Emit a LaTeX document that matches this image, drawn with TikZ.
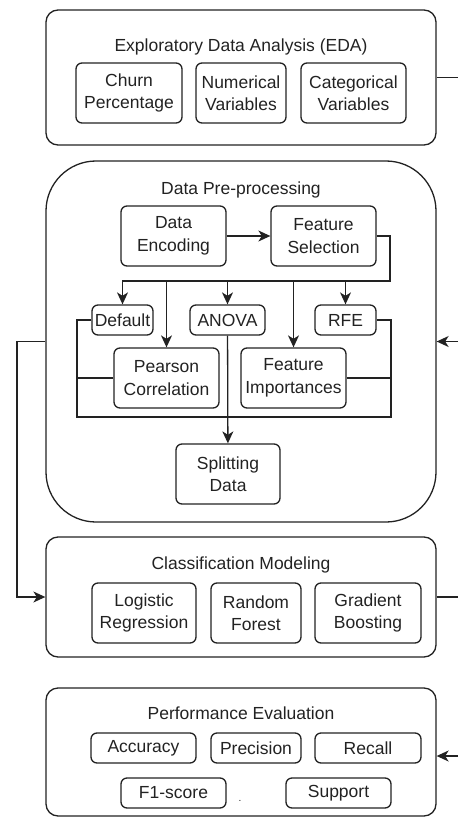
\documentclass[tikz,border=0pt]{standalone}
\usepackage{fontspec}
\setmainfont{Liberation Sans}
\usetikzlibrary{arrows.meta}
\definecolor{ink}{HTML}{222222}
\begin{document}
\begin{tikzpicture}[x=1pt,y=-1pt,
  every node/.style={font=\fontsize{17.5}{22.5}\selectfont, inner sep=0pt, align=center, text=ink},
  outer/.style={draw=ink, line width=1.3pt, rounded corners=12pt},
  ibox/.style={draw=ink, line width=1.3pt, rounded corners=6pt, minimum height=60pt},
  sbox/.style={draw=ink, line width=1.3pt, rounded corners=6pt, minimum height=30pt},
  title/.style={},
  conn/.style={draw=ink, line width=1.3pt},
  arr/.style={draw=ink, line width=1.3pt, -{Stealth[length=12pt,width=11pt,inset=3.5pt]}}]
\useasboundingbox (0,0) rectangle (458,818);
% outer boxes
\node[outer, minimum width=390pt, minimum height=135pt] (eda) at (241,77.5) {};
\node[outer, rounded corners=50pt, minimum width=390pt, minimum height=361pt] (pre) at (241,341.5) {};
\node[outer, minimum width=390pt, minimum height=120pt] (cls) at (241,597) {};
\node[outer, minimum width=390pt, minimum height=128pt] (perf) at (241,752) {};
% titles
\node[title] (tEda) at (241,47) {Exploratory Data Analysis (EDA)};
\node[title] (tPre) at (241,190) {Data Pre-processing};
\node[title] (tCls) at (241,565) {Classification Modeling};
\node[title] (tPerf) at (241,713) {Performance Evaluation};
% EDA
\node[ibox, minimum width=106pt] (churn) at (129,93) {Churn\\Percentage};
\node[ibox, minimum width=90pt] (num) at (241,93) {Numerical\\Variables};
\node[ibox, minimum width=105pt] (cat) at (353.5,93) {Categorical\\Variables};
% Pre-processing
\node[ibox, minimum width=105pt] (de) at (173.5,236) {Data\\Encoding};
\node[ibox, minimum width=105pt] (fs) at (323.5,236) {Feature\\Selection};
\node[sbox, minimum width=61pt] (default) at (122.5,320) {Default};
\node[sbox, minimum width=75pt] (anova) at (227.5,320) {ANOVA};
\node[sbox, minimum width=61pt] (rfe) at (345.5,320) {RFE};
\node[ibox, minimum width=105pt] (pearson) at (166.5,378) {Pearson\\Correlation};
\node[ibox, minimum width=105pt] (fi) at (293.5,378) {Feature\\Importances};
\node[ibox, minimum width=104pt] (split) at (228,474) {Splitting\\Data};
% Classification
\node[ibox, minimum width=104pt] (lr) at (144,613) {Logistic\\Regression};
\node[ibox, minimum width=90pt] (rf) at (256,613) {Random\\Forest};
\node[ibox, minimum width=106pt] (gb) at (368,613) {Gradient\\Boosting};
% Performance
\node[sbox, minimum width=105pt] (acc) at (143.5,748) {Accuracy};
\node[sbox, minimum width=90pt] (prec) at (256,748) {Precision};
\node[sbox, minimum width=106pt] (rec) at (368,748) {Recall};
\node[sbox, minimum width=105pt] (f1) at (173.5,793) {F1-score};
\node[sbox, minimum width=105pt] (sup) at (338.5,793) {Support};
\node[font=\fontsize{10}{10}\selectfont] (dot) at (240,801) {.};
% coordinates
\coordinate (busR) at (390,281);
\coordinate (bl) at (77,417);
\coordinate (br) at (391,417);
\coordinate (lp) at (17,0);
\coordinate (redge) at (458,0);
% connectors inside pre-processing
\draw[arr] (de) -- (fs);
\draw[arr] (fs.east) -| (busR) -| (default.north);
\draw[arr] (pearson.north |- busR) -- (pearson.north);
\draw[arr] (anova.north |- busR) -- (anova.north);
\draw[arr] (fi.north |- busR) -- (fi.north);
\draw[arr] (rfe.north |- busR) -- (rfe.north);
\draw[conn] (default.west) -| (bl) -- (br) |- (rfe.east);
\draw[conn] (pearson.west) -- (pearson.west -| bl);
\draw[conn] (fi.east) -- (fi.east -| br);
\draw[arr] (anova) -- (split);
% outer connectors
\draw[arr] (pre.west) -- (pre.west -| lp) |- (cls.west);
\draw[conn] (eda.east) -- (eda.east -| redge);
\draw[arr] (pre.east -| redge) -- (pre.east);
\draw[conn] (cls.east) -- (cls.east -| redge);
\coordinate (pin) at (458,756);
\draw[arr] (pin) -- (perf.east |- pin);
\end{tikzpicture}
\end{document}
